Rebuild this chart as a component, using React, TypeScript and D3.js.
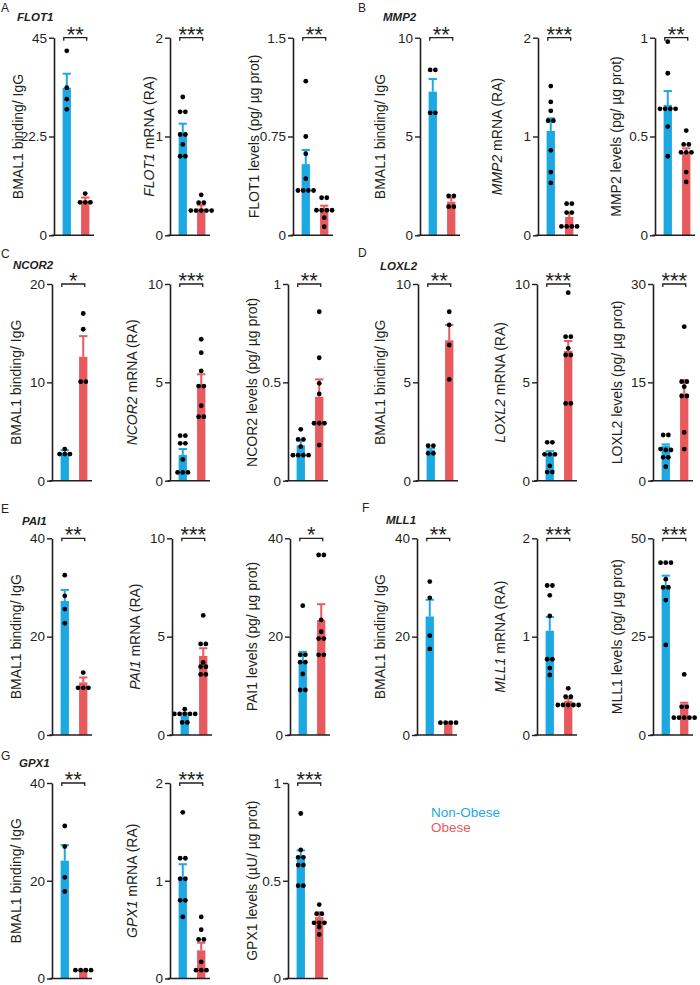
import React, { useEffect, useRef } from 'react';
import * as d3 from 'd3';

const BLUE = '#1ca9e2';
const RED = '#e95a5e';
const INK = '#231f20';
const FONT = 'Arial, "Liberation Sans", Helvetica, sans-serif';

const groups = ['Non-Obese', 'Obese'];
const genes = ['FLOT1', 'MMP2', 'NCOR2', 'LOXL2', 'PAI1', 'MLL1', 'GPX1'];
const panelLetters = ['A', 'B', 'C', 'D', 'E', 'F', 'G'];
const proteinUnits = ['pg/ µg prot', 'pg/ µg prot', 'pg/ µg prot', 'pg/ µg prot', 'pg/ µg prot', 'pg/ µg prot', 'µU/ µg prot'];

// tick labels per panel: [ChIP, mRNA, protein]
const yTicks = [
  [[0, 22.5, 45], [0, 1, 2], [0, 0.75, 1.5]],
  [[0, 5, 10], [0, 1, 2], [0, 0.5, 1]],
  [[0, 10, 20], [0, 5, 10], [0, 0.5, 1]],
  [[0, 5, 10], [0, 5, 10], [0, 15, 30]],
  [[0, 20, 40], [0, 5, 10], [0, 20, 40]],
  [[0, 20, 40], [0, 1, 2], [0, 25, 50]],
  [[0, 20, 40], [0, 1, 2], [0, 0.5, 1]],
];

const stars = [
  ['**', '***', '**'],
  ['**', '***', '**'],
  ['*', '***', '**'],
  ['**', '***', '***'],
  ['**', '***', '*'],
  ['**', '***', '***'],
  ['**', '***', '***'],
];

// bar means [non-obese, obese]
const barMeans = [
  [[33.6, 7.9], [1.04, 0.27], [0.54, 0.2]],
  [[7.27, 1.7], [1.056, 0.185], [0.66, 0.42]],
  [[2.84, 12.6], [1.31, 4.86], [0.18, 0.427]],
  [[1.56, 7.14], [1.4, 6.6], [5.34, 13.3]],
  [[27.25, 10.7], [1.0, 4.02], [15.1, 23.4]],
  [[24.1, 2.5], [1.06, 0.346], [38.1, 6.95]],
  [[24.1, 1.7], [1.044, 0.288], [0.62, 0.314]],
];

// top of the SEM bar
const barErrTop = [
  [[36.8, 8.6], [1.13, 0.305], [0.648, 0.225]],
  [[7.91, 1.9], [1.184, 0.229], [0.73, 0.44]],
  [[3.1, 14.7], [1.61, 5.41], [0.205, 0.515]],
  [[1.64, 7.92], [1.5, 7.1], [5.54, 15.36]],
  [[29.5, 11.7], [1.1, 4.41], [16.9, 26.6]],
  [[27.5, 2.6], [1.2, 0.369], [40.5, 8.2]],
  [[27.3, 1.8], [1.169, 0.366], [0.655, 0.339]],
];

// individual points [non-obese, obese] for ChIP, mRNA, protein
const flot1Dots = [
  [[42.0, 33.6, 31.0, 28.7], [9.5, 7.5, 7.5, 7.5]],
  [[1.40, 1.25, 1.25, 1.02, 1.02, 0.92, 0.80, 0.80], [0.41, 0.33, 0.33, 0.25, 0.25, 0.25, 0.25, 0.25]],
  [[1.17, 0.75, 0.62, 0.43, 0.34, 0.34, 0.34, 0.34], [0.285, 0.285, 0.19, 0.19, 0.19, 0.19, 0.134, 0.065]],
];
const mmp2Dots = [
  [[8.37, 8.37, 6.2, 6.2], [2.0, 2.0, 1.45, 1.45]],
  [[1.51, 1.35, 1.26, 1.16, 1.16, 0.86, 0.64, 0.53], [0.32, 0.32, 0.23, 0.23, 0.09, 0.09, 0.09, 0.09]],
  [[0.98, 0.82, 0.64, 0.64, 0.64, 0.64, 0.55, 0.40], [0.53, 0.46, 0.46, 0.42, 0.42, 0.42, 0.32, 0.27]],
];
const ncor2Dots = [
  [[3.22, 2.71, 2.71, 2.71], [17.0, 15.4, 10.07, 10.07]],
  [[2.29, 2.29, 1.9, 1.9, 1.08, 0.42, 0.42, 0.42], [7.19, 6.51, 5.58, 4.81, 4.81, 3.81, 3.25, 3.25]],
  [[0.261, 0.21, 0.21, 0.173, 0.13, 0.13, 0.13, 0.13], [0.859, 0.625, 0.495, 0.441, 0.292, 0.292, 0.292, 0.181]],
];
const loxl2Dots = [
  [[1.78, 1.78, 1.39, 1.39], [8.59, 7.92, 6.9, 5.15]],
  [[1.95, 1.95, 1.34, 1.34, 1.34, 0.75, 0.44, 0.44], [9.56, 7.32, 7.32, 6.73, 6.39, 6.39, 3.93, 3.93]],
  [[6.97, 6.97, 4.83, 4.68, 4.68, 3.56, 3.56, 2.14], [23.49, 15.1, 15.1, 14.34, 12.92, 12.92, 7.37, 4.83]],
];
const pai1Dots = [
  [[32.5, 28.3, 25.6, 22.7], [12.7, 9.6, 9.6, 9.6]],
  [[1.31, 1.07, 1.07, 1.07, 1.07, 1.07, 0.64, 0.64], [6.08, 4.63, 4.63, 3.69, 3.47, 3.47, 3.08, 3.08]],
  [[26.3, 16.3, 16.3, 14.8, 14.8, 12.4, 9.15, 9.15], [36.6, 36.6, 23.4, 21.0, 19.6, 19.6, 16.3, 16.3]],
];
const mll1Dots = [
  [[31.2, 27.9, 20.2, 17.5], [2.5, 2.5, 2.5, 2.5]],
  [[1.52, 1.52, 1.42, 1.21, 0.77, 0.77, 0.68, 0.61], [0.475, 0.39, 0.39, 0.305, 0.305, 0.305, 0.305, 0.305]],
  [[43.8, 43.8, 43.8, 39.6, 37.5, 37.5, 34.3, 22.9], [15.4, 7.2, 7.2, 4.4, 4.4, 4.4, 4.4, 4.4]],
];
const gpx1Dots = [
  [[31.2, 27.0, 20.7, 17.8], [1.7, 1.7, 1.7, 1.7]],
  [[1.70, 1.23, 1.23, 1.02, 1.02, 0.80, 0.80, 0.63], [0.63, 0.50, 0.40, 0.40, 0.17, 0.085, 0.085, 0.085]],
  [[0.844, 0.658, 0.62, 0.62, 0.58, 0.58, 0.475, 0.475], [0.378, 0.331, 0.331, 0.285, 0.285, 0.285, 0.263, 0.225]],
];
const allDots = [flot1Dots, mmp2Dots, ncor2Dots, loxl2Dots, pai1Dots, mll1Dots, gpx1Dots];

// layout of each panel
const layout = [
  { letter: [1, 12], title: [17, 21], axes: [54, 170, 293], labelOff: [31.5, 16, 34], top: 37.7, bottom: 235.3 },
  { letter: [358, 12], title: [383, 21], axes: [420, 538, 655], labelOff: [35, 36, 34], top: 37.7, bottom: 235.3 },
  { letter: [1, 258], title: [13, 269], axes: [52, 170, 288], labelOff: [31, 33, 31], top: 284, bottom: 480.7 },
  { letter: [358, 257], title: [380, 270], axes: [418, 537, 653], labelOff: [33, 32, 31], top: 284, bottom: 480.7 },
  { letter: [1, 513], title: [22, 525], axes: [52, 172, 290], labelOff: [31, 32, 33], top: 538.3, bottom: 735 },
  { letter: [362, 512], title: [386, 524], axes: [417, 537, 653], labelOff: [32, 32, 31], top: 538.3, bottom: 735 },
  { letter: [1, 760], title: [19, 767], axes: [52, 170, 288], labelOff: [31, 33, 31], top: 783, bottom: 978.5 },
];

function dotPositions(vals, y, cx) {
  const sorted = [...vals].sort((a, b) => b - a);
  const rows = [];
  sorted.forEach(v => {
    const last = rows[rows.length - 1];
    if (last && Math.abs(y(last[0]) - y(v)) < 2.5) last.push(v);
    else rows.push([v]);
  });
  const out = [];
  rows.forEach(r => r.forEach((v, i) => out.push({ x: cx + (i - (r.length - 1) / 2) * 5.2, y: y(v) })));
  return out;
}

export default function App() {
  const ref = useRef(null);

  useEffect(() => {
    const svg = d3.select(ref.current);
    svg.selectAll('*').remove();

    genes.forEach((gene, p) => {
      const L = layout[p];

      svg.append('text')
        .attr('x', L.letter[0]).attr('y', L.letter[1])
        .attr('font-size', 12).attr('font-family', FONT).attr('fill', INK)
        .text(panelLetters[p]);

      svg.append('text')
        .attr('x', L.title[0]).attr('y', L.title[1])
        .attr('font-size', 11.5).attr('font-family', FONT)
        .attr('font-weight', 'bold').attr('font-style', 'italic').attr('fill', INK)
        .text(gene);

      for (let c = 0; c < 3; c++) {
        const ax = L.axes[c];
        const ticks = yTicks[p][c];
        const y = d3.scaleLinear().domain([0, ticks[ticks.length - 1]]).range([L.bottom, L.top]);
        const x = d3.scaleBand().domain(groups).range([ax + 4, ax + 40]).paddingInner(0.55).paddingOuter(0.25);
        const g = svg.append('g');

        // bars
        g.selectAll('rect.bar')
          .data(groups)
          .enter()
          .append('rect')
          .attr('x', d => x(d))
          .attr('width', x.bandwidth())
          .attr('y', (d, i) => y(barMeans[p][c][i]))
          .attr('height', (d, i) => L.bottom - y(barMeans[p][c][i]))
          .attr('fill', (d, i) => (i === 0 ? BLUE : RED));

        // error bars
        groups.forEach((grp, i) => {
          const cx = x(grp) + x.bandwidth() / 2;
          const col = i === 0 ? BLUE : RED;
          g.append('line')
            .attr('x1', cx).attr('x2', cx)
            .attr('y1', y(barMeans[p][c][i])).attr('y2', y(barErrTop[p][c][i]))
            .attr('stroke', col).attr('stroke-width', 2);
          g.append('line')
            .attr('x1', cx - x.bandwidth() / 2).attr('x2', cx + x.bandwidth() / 2)
            .attr('y1', y(barErrTop[p][c][i])).attr('y2', y(barErrTop[p][c][i]))
            .attr('stroke', col).attr('stroke-width', 2);
        });

        // points
        groups.forEach((grp, i) => {
          const cx = x(grp) + x.bandwidth() / 2;
          g.selectAll(null)
            .data(dotPositions(allDots[p][c][i], y, cx))
            .enter()
            .append('circle')
            .attr('cx', d => d.x).attr('cy', d => d.y).attr('r', 2.4)
            .attr('fill', '#000');
        });

        // y axis
        const yAxis = d3.axisLeft(y).tickValues(ticks).tickSize(5).tickSizeOuter(0).tickPadding(2)
          .tickFormat(d => String(d));
        const ag = g.append('g').attr('transform', `translate(${ax},0)`).call(yAxis);
        ag.select('.domain').attr('stroke', INK).attr('stroke-width', 1.6);
        ag.selectAll('.tick line').attr('stroke', INK).attr('stroke-width', 1.4);
        ag.selectAll('.tick text').attr('font-size', 13.5).attr('font-family', FONT).attr('fill', INK);

        // x axis line
        g.append('line')
          .attr('x1', ax - 2.5).attr('x2', ax + 40)
          .attr('y1', L.bottom).attr('y2', L.bottom)
          .attr('stroke', INK).attr('stroke-width', 1.6);

        // y label
        const lab = g.append('text')
          .attr('transform', `translate(${ax - L.labelOff[c]},${(L.top + L.bottom) / 2}) rotate(-90)`)
          .attr('text-anchor', 'middle')
          .attr('font-size', 14).attr('font-family', FONT).attr('fill', INK);
        if (c === 0) lab.text('BMAL1 binding/ IgG');
        else if (c === 1) {
          lab.append('tspan').attr('font-style', 'italic').text(gene);
          lab.append('tspan').text(' mRNA (RA)');
        } else lab.text(`${gene} levels (${proteinUnits[p]})`);

        // significance bracket
        const x0 = x(groups[0]) + x.bandwidth() / 2 - 3;
        const x1 = x(groups[1]) + x.bandwidth() / 2 + 1.5;
        g.append('path')
          .attr('d', `M${x0},${L.top + 3}V${L.top}H${x1}V${L.top + 3}`)
          .attr('fill', 'none').attr('stroke', INK).attr('stroke-width', 1.3);
        g.append('text')
          .attr('x', (x0 + x1) / 2).attr('y', L.top + 4)
          .attr('text-anchor', 'middle')
          .attr('font-size', 22).attr('font-family', FONT).attr('fill', INK)
          .text(stars[p][c]);
      }
    });

    // legend
    groups.forEach((grp, i) => {
      svg.append('text')
        .attr('x', 431).attr('y', 816.5 + i * 15.5)
        .attr('font-size', 13.5).attr('font-family', FONT)
        .attr('fill', i === 0 ? BLUE : RED)
        .text(grp);
    });
  }, []);

  return (
    <svg ref={ref} width={700} height={985} style={{ position: 'absolute', left: 0, top: 0, background: '#fff' }} />
  );
}
